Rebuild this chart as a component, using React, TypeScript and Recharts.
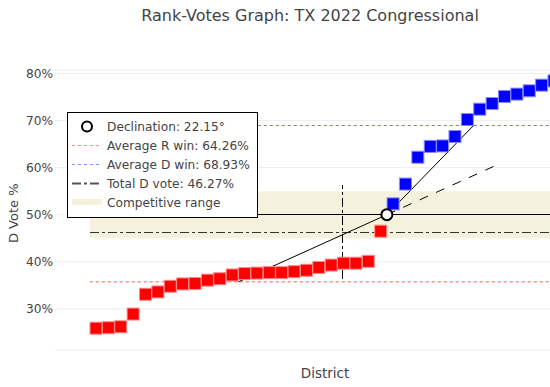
import React from "react";
import {
  ComposedChart,
  Scatter,
  XAxis,
  YAxis,
  CartesianGrid,
  ReferenceLine,
  ReferenceArea,
  Legend,
} from "recharts";

// D vote share per district, sorted; R wins then D wins
const rWins = [
  25.9, 26.0, 26.2, 28.9, 33.1, 33.6, 34.8, 35.3, 35.4, 36.1, 36.4, 37.2,
  37.5, 37.6, 37.7, 37.7, 37.9, 38.2, 38.8, 39.3, 39.7, 39.7, 40.1, 46.5,
];
const dWins = [
  52.3, 56.5, 62.2, 64.5, 64.6, 66.6, 70.2, 72.4, 73.6, 75.1, 75.6, 76.3,
  77.5, 78.4,
];
const yTicks = [30, 40, 50, 60, 70, 80];
const avgRWin = 64.26;
const avgDWin = 68.93;
const totalDVote = 46.27;
const declination = 22.15;
const competitiveRange = [45, 55];
const declExtensionEnd = 0.862;

const FONT = '"DejaVu Sans", Verdana, sans-serif';
const TEXT = "#444";
const BAND = "#f4f2dc";
const RED_LINE = "#ff5a5a";
const BLUE_LINE = "#6f6fff";
const DASHDOT = "#333";

const nDistricts = rWins.length + dWins.length;
const rData = rWins.map((v, i) => ({ x: (i + 0.5) / nDistricts, y: v }));
const dData = dWins.map((v, i) => ({
  x: (rWins.length + i + 0.5) / nDistricts,
  y: v,
}));

const rMeanY = 100 - avgRWin;
const rMeanX = rData.reduce((s, p) => s + p.x, 0) / rData.length;
const dMeanX = dData.reduce((s, p) => s + p.x, 0) / dData.length;
const pivotX = rWins.length / nDistricts;
const rSlope = (50 - rMeanY) / (pivotX - rMeanX);
const extEndY = 50 + rSlope * (declExtensionEnd - pivotX);
const pivotData = [{ x: pivotX, y: 50 }];
const totalX = 1 - totalDVote / 100;

function square(fill: string, stroke: string) {
  return (props: any) => (
    <rect
      x={props.cx - 6}
      y={props.cy - 6}
      width={12}
      height={12}
      fill={fill}
      stroke={stroke}
      strokeWidth={1}
    />
  );
}

function pivotDot(props: any) {
  return (
    <circle
      cx={props.cx}
      cy={props.cy}
      r={5.5}
      fill="#fff"
      stroke="#000"
      strokeWidth={2}
    />
  );
}

function LegendBox() {
  const rows = [
    {
      label: `Declination: ${declination.toFixed(2)}°`,
      icon: <circle cx={15} cy={9.5} r={5} fill="#fff" stroke="#000" strokeWidth={2} />,
    },
    {
      label: `Average R win: ${avgRWin.toFixed(2)}%`,
      icon: <line x1={0} x2={30} y1={9.5} y2={9.5} stroke="#ff8c8c" strokeDasharray="3 3" />,
    },
    {
      label: `Average D win: ${avgDWin.toFixed(2)}%`,
      icon: <line x1={0} x2={30} y1={9.5} y2={9.5} stroke="#8c8cff" strokeDasharray="3 3" />,
    },
    {
      label: `Total D vote: ${totalDVote.toFixed(2)}%`,
      icon: <line x1={0} x2={30} y1={9.5} y2={9.5} stroke="#555" strokeWidth={2} strokeDasharray="9 3 3 3" />,
    },
    {
      label: "Competitive range",
      icon: <rect x={0} y={6} width={30} height={6} fill={BAND} />,
    },
  ];
  return (
    <div
      style={{
        width: 189,
        height: 104,
        border: "1px solid #000",
        background: "#fff",
        position: "relative",
        fontFamily: FONT,
        fontSize: 12.2,
        color: TEXT,
      }}
    >
      {rows.map((r, i) => (
        <div
          key={r.label}
          style={{
            position: "absolute",
            left: 4,
            top: 4 + i * 19,
            height: 19,
            display: "flex",
            alignItems: "center",
            whiteSpace: "nowrap",
          }}
        >
          <svg width={30} height={19} style={{ marginRight: 5 }}>
            {r.icon}
          </svg>
          <span>{r.label}</span>
        </div>
      ))}
    </div>
  );
}

export default function App() {
  return (
    <div
      style={{
        position: "absolute",
        left: 0,
        top: 0,
        width: 550,
        height: 387,
        overflow: "hidden",
        background: "#fff",
        fontFamily: FONT,
      }}
    >
      <ComposedChart
        width={618}
        height={387}
        margin={{ top: 70, right: 23, bottom: 37, left: 0 }}
        style={{ position: "absolute", left: 0, top: 0 }}
      >
        <CartesianGrid vertical={false} stroke="#eee" />
        <XAxis
          type="number"
          dataKey="x"
          domain={[-0.074, 1.074]}
          allowDataOverflow
          hide
        />
        <YAxis
          type="number"
          dataKey="y"
          width={55}
          domain={[21.27, 80.72]}
          allowDataOverflow
          ticks={yTicks}
          tickFormatter={(v) => `${v}%`}
          axisLine={false}
          tickLine={false}
          tickSize={0}
          tickMargin={2}
          tick={{ fontSize: 12.2, fill: TEXT, fontFamily: FONT }}
        />
        <ReferenceArea
          x1={0}
          x2={1}
          y1={competitiveRange[0]}
          y2={competitiveRange[1]}
          fill={BAND}
          fillOpacity={1}
          stroke="none"
        />
        <ReferenceLine
          segment={[{ x: 0, y: rMeanY }, { x: 1, y: rMeanY }]}
          stroke={RED_LINE}
          strokeDasharray="3 3"
        />
        <ReferenceLine
          segment={[{ x: 0, y: avgDWin }, { x: 1, y: avgDWin }]}
          stroke={BLUE_LINE}
          strokeDasharray="3 3"
        />
        <ReferenceLine
          segment={[{ x: 0, y: totalDVote }, { x: 1, y: totalDVote }]}
          stroke={DASHDOT}
          strokeDasharray="9 3 3 3"
          shapeRendering="crispEdges"
        />
        <ReferenceLine
          segment={[{ x: totalX, y: totalDVote - 10 }, { x: totalX, y: totalDVote + 10 }]}
          stroke="#000"
          strokeDasharray="9 3 3 3"
          shapeRendering="crispEdges"
        />
        <ReferenceLine
          segment={[{ x: 0, y: 50 }, { x: 1, y: 50 }]}
          stroke="#000"
          shapeRendering="crispEdges"
        />
        <ReferenceLine
          segment={[{ x: rMeanX, y: rMeanY }, { x: pivotX, y: 50 }]}
          stroke="#000"
        />
        <ReferenceLine
          segment={[{ x: pivotX, y: 50 }, { x: dMeanX, y: avgDWin }]}
          stroke="#000"
        />
        <ReferenceLine
          segment={[{ x: pivotX, y: 50 }, { x: declExtensionEnd, y: extEndY }]}
          stroke="#000"
          strokeDasharray="9 9"
        />
        <Scatter
          data={rData}
          dataKey="y"
          shape={square("#ff0000", "#ff8a8a")}
          isAnimationActive={false}
        />
        <Scatter
          data={dData}
          dataKey="y"
          shape={square("#0000ff", "#8a8aff")}
          isAnimationActive={false}
        />
        <Scatter
          data={pivotData}
          dataKey="y"
          shape={pivotDot}
          isAnimationActive={false}
        />
        <Legend
          layout="horizontal"
          verticalAlign="middle"
          align="center"
          content={() => <LegendBox />}
          wrapperStyle={{ left: 67, top: 112, width: "auto" }}
        />
      </ComposedChart>
      <svg
        width={550}
        height={387}
        style={{ position: "absolute", left: 0, top: 0, pointerEvents: "none" }}
      >
        <text
          x={310}
          y={20.5}
          textAnchor="middle"
          fontSize={16}
          fill={TEXT}
          fontFamily={FONT}
        >
          Rank-Votes Graph: TX 2022 Congressional
        </text>
        <text
          x={325}
          y={378}
          textAnchor="middle"
          fontSize={13.5}
          fill={TEXT}
          fontFamily={FONT}
        >
          District
        </text>
        <text
          transform="translate(17.5, 213.3) rotate(-90)"
          textAnchor="middle"
          fontSize={13}
          fill={TEXT}
          fontFamily={FONT}
        >
          D Vote %
        </text>
      </svg>
    </div>
  );
}
